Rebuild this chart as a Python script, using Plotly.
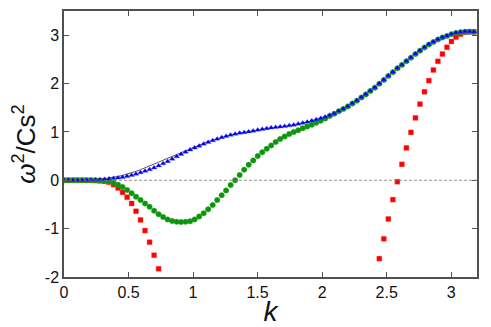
import plotly.graph_objects as go

# wave number grid (step ~pi/90)
k = [0.000, 0.035, 0.070, 0.105, 0.140, 0.175, 0.209, 0.244, 0.279, 0.314,
     0.349, 0.384, 0.419, 0.454, 0.489, 0.524, 0.558, 0.593, 0.628, 0.663,
     0.698, 0.733, 0.768, 0.803, 0.838, 0.873, 0.907, 0.942, 0.977, 1.012,
     1.047, 1.082, 1.117, 1.152, 1.187, 1.222, 1.256, 1.291, 1.326, 1.361,
     1.396, 1.431, 1.466, 1.501, 1.536, 1.571, 1.605, 1.640, 1.675, 1.710,
     1.745, 1.780, 1.815, 1.850, 1.885, 1.920, 1.954, 1.989, 2.024, 2.059,
     2.094, 2.129, 2.164, 2.199, 2.234, 2.269, 2.304, 2.338, 2.373, 2.408,
     2.443, 2.478, 2.513, 2.548, 2.583, 2.618, 2.653, 2.688, 2.723, 2.758,
     2.793, 2.827, 2.862, 2.897, 2.932, 2.967, 3.002, 3.037, 3.072, 3.107,
     3.142, 3.176]

blue = [0.000, 0.000, 0.000, 0.000, 0.001, 0.002, 0.004, 0.008, 0.013, 0.020,
        0.030, 0.040, 0.050, 0.065, 0.085, 0.105, 0.130, 0.160, 0.190, 0.225,
        0.260, 0.300, 0.345, 0.390, 0.440, 0.490, 0.540, 0.585, 0.630, 0.670,
        0.710, 0.750, 0.785, 0.820, 0.855, 0.885, 0.910, 0.935, 0.955, 0.975,
        0.990, 1.005, 1.020, 1.040, 1.055, 1.070, 1.085, 1.095, 1.105, 1.115,
        1.130, 1.145, 1.165, 1.185, 1.205, 1.230, 1.255, 1.280, 1.310, 1.345,
        1.380, 1.430, 1.480, 1.530, 1.590, 1.650, 1.715, 1.780, 1.850, 1.920,
        2.000, 2.080, 2.160, 2.240, 2.320, 2.390, 2.465, 2.540, 2.615, 2.685,
        2.750, 2.810, 2.865, 2.915, 2.955, 2.990, 3.025, 3.050, 3.065, 3.075,
        3.075, 3.070]

green = [0.000, 0.000, 0.000, 0.000, 0.000, 0.000, -0.001, -0.002, -0.004, -0.008,
         -0.020, -0.050, -0.090, -0.140, -0.200, -0.270, -0.340, -0.410, -0.480, -0.550,
         -0.630, -0.700, -0.760, -0.810, -0.840, -0.860, -0.865, -0.860, -0.845, -0.810,
         -0.750, -0.680, -0.600, -0.510, -0.410, -0.310, -0.210, -0.100, 0.000, 0.110,
         0.220, 0.320, 0.410, 0.500, 0.580, 0.650, 0.720, 0.790, 0.855, 0.905,
         0.955, 1.000, 1.035, 1.075, 1.110, 1.150, 1.190, 1.230, 1.275, 1.330,
         1.375, 1.425, 1.475, 1.525, 1.585, 1.645, 1.710, 1.775, 1.845, 1.915,
         1.995, 2.075, 2.155, 2.235, 2.315, 2.385, 2.460, 2.535, 2.610, 2.680,
         2.745, 2.805, 2.860, 2.910, 2.950, 2.985, 3.020, 3.045, 3.060, 3.070,
         3.070, 3.065]

red = [0.000, 0.000, 0.000, 0.000, 0.000, -0.001, -0.003, -0.006, -0.012, -0.022,
       -0.040, -0.090, -0.160, -0.250, -0.350, -0.480, -0.640, -0.820, -1.040, -1.280,
       -1.550, -1.830, None, None, None, None, None, None, None, None,
       None, None, None, None, None, None, None, None, None, None,
       None, None, None, None, None, None, None, None, None, None,
       None, None, None, None, None, None, None, None, None, None,
       None, None, None, None, None, None, None, None, None, None,
       -1.620, -1.210, -0.800, -0.400, -0.030, 0.330, 0.670, 0.990, 1.290, 1.575,
       1.830, 2.060, 2.280, 2.460, 2.610, 2.750, 2.870, 2.960, 3.020, 3.060,
       3.070, 3.070]

black = [0.000, 0.000, 0.000, 0.000, 0.001, 0.002, 0.006, 0.011, 0.018, 0.030,
         0.045, 0.060, 0.080, 0.100, 0.125, 0.155, 0.185, 0.220, 0.255, 0.295,
         0.335, 0.375, 0.415, 0.455, 0.500, 0.540, 0.580, 0.620, 0.660, 0.695,
         0.730, 0.765, 0.800, 0.830, 0.860, 0.890, 0.915, 0.940, 0.960, 0.978,
         0.993, 1.005, 1.020, 1.040, 1.055, 1.070, 1.085, 1.095, 1.105, 1.115,
         1.130, 1.145, 1.165, 1.185, 1.205, 1.230, 1.255, 1.280, 1.310, 1.345,
         1.380, 1.430, 1.480, 1.530, 1.590, 1.650, 1.715, 1.780, 1.850, 1.920,
         2.000, 2.080, 2.160, 2.240, 2.320, 2.390, 2.465, 2.540, 2.615, 2.685,
         2.750, 2.810, 2.865, 2.915, 2.955, 2.990, 3.025, 3.050, 3.065, 3.075,
         3.075, 3.070]

fig = go.Figure()
fig.add_hline(y=0, line=dict(color="#777777", width=0.8, dash="3px,2px"))
fig.add_trace(go.Scatter(x=k, y=black, mode="lines",
                         line=dict(color="#555555", width=1)))
fig.add_trace(go.Scatter(x=k, y=red, mode="markers",
                         marker=dict(symbol="square", size=5, color="#ff0000",
                                     line=dict(width=1, color="rgba(255,80,80,0.35)"))))
fig.add_trace(go.Scatter(x=k, y=green, mode="markers",
                         marker=dict(symbol="circle", size=5.5, color="#0a960a",
                                     line=dict(width=1, color="rgba(60,170,60,0.35)"))))
fig.add_trace(go.Scatter(x=k, y=blue, mode="markers",
                         marker=dict(symbol="triangle-up", size=5, color="#0000e6",
                                     line=dict(width=1, color="rgba(80,80,255,0.35)"))))

axis_style = dict(showline=True, linecolor="#505050", linewidth=1.5, mirror="ticks",
                  ticks="inside", ticklen=5, tickcolor="#505050", showgrid=False,
                  zeroline=False, automargin=False,
                  tickfont=dict(family="Liberation Sans, Arial", size=16, color="#111111"))

# the page body adds an 8px offset, so the figure is a bit smaller than the window
fig.update_layout(
    width=483, height=319,
    margin=dict(l=56, r=14, t=3, b=50),
    plot_bgcolor="white", paper_bgcolor="white",
    showlegend=False,
    xaxis=dict(range=[0, 3.2], tickvals=[0, 0.5, 1, 1.5, 2, 2.5, 3],
               ticktext=["0", "0.5", "1", "1.5", "2", "2.5", "3"],
               title=dict(text="<i>k</i>", standoff=0,
                          font=dict(family="Liberation Sans, Arial", size=28, color="#111111")),
               **axis_style),
    yaxis=dict(range=[-2, 3.5], tickvals=[-2, -1, 0, 1, 2, 3],
               ticktext=["-2", "-1", "0", "1", "2", "3"],
               title=dict(text="<i>ω</i><sup>2</sup>/Cs<sup>2</sup>", standoff=4,
                          font=dict(family="Liberation Sans, Arial", size=26, color="#111111")),
               **axis_style),
)

fig.write_html("out.html")
